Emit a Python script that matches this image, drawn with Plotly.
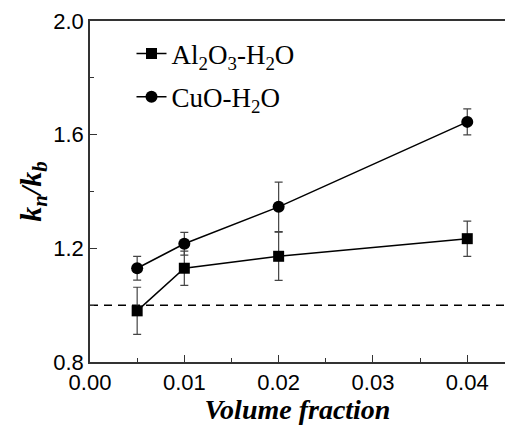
import plotly.graph_objects as go

volume_fraction = [0.005, 0.01, 0.02, 0.04]
al2o3_ratio = [0.98, 1.13, 1.172, 1.234]
al2o3_err = [0.083, 0.06, 0.085, 0.062]
cuo_ratio = [1.13, 1.216, 1.346, 1.645]
cuo_err = [0.042, 0.04, 0.087, 0.046]
ref_x = [0.0, 0.044]
ref_y = [1.0, 1.0]
x_ticks = [0.0, 0.01, 0.02, 0.03, 0.04]
x_tick_labels = ["0.00", "0.01", "0.02", "0.03", "0.04"]
y_ticks = [0.8, 1.2, 1.6, 2.0]
y_tick_labels = ["0.8", "1.2", "1.6", "2.0"]

fig = go.Figure()
fig.add_trace(go.Scatter(
    x=ref_x, y=ref_y, mode="lines", showlegend=False,
    line=dict(color="black", width=1.5, dash="8px,6px"), hoverinfo="skip"))
fig.add_trace(go.Scatter(
    x=volume_fraction, y=al2o3_ratio, mode="lines+markers",
    name="Al<sub>2</sub>O<sub>3</sub>-H<sub>2</sub>O", legendgroup="a",
    line=dict(color="black", width=1.5),
    marker=dict(symbol="square", size=11, color="black"),
    error_y=dict(type="data", array=al2o3_err, color="#444", thickness=1.2, width=4)))
fig.add_trace(go.Scatter(
    x=volume_fraction, y=cuo_ratio, mode="lines+markers",
    name="CuO-H<sub>2</sub>O", legendgroup="b",
    line=dict(color="black", width=1.5),
    marker=dict(symbol="circle", size=12, color="black"),
    error_y=dict(type="data", array=cuo_err, color="#444", thickness=1.2, width=4)))

fig.update_layout(
    width=506, height=425,
    margin=dict(l=90, r=1, t=21, b=63),
    paper_bgcolor="white", plot_bgcolor="white",
    font=dict(family="Liberation Sans, Arial", size=22, color="black"),
    legend=dict(x=0.1, y=0.975, xanchor="left", yanchor="top",
                font=dict(family="Liberation Serif, Times New Roman", size=27),
                bgcolor="rgba(0,0,0,0)", traceorder="grouped", tracegroupgap=5),
    xaxis=dict(range=[0, 0.044], tickvals=x_ticks, ticktext=x_tick_labels,
               ticks="inside", ticklen=7, tickwidth=1.2, tickcolor="#333",
               minor=dict(ticks="inside", ticklen=4, dtick=0.005, tick0=0, tickcolor="#333"),
               showline=True, linecolor="#333", linewidth=1.5, mirror=True,
               showgrid=False, zeroline=False,
               title=dict(text="<b><i>Volume fraction</i></b>", standoff=7,
                          font=dict(family="Liberation Serif, Times New Roman", size=28))),
    yaxis=dict(range=[0.8, 2.0], tickvals=y_ticks, ticktext=y_tick_labels,
               ticks="inside", ticklen=7, tickwidth=1.2, tickcolor="#333",
               minor=dict(ticks="inside", ticklen=4, dtick=0.2, tick0=0.8, tickcolor="#333"),
               showline=True, linecolor="#333", linewidth=1.5,
               showgrid=False, zeroline=False,
               title=dict(text="<b><i>k<sub>n</sub>/k<sub>b</sub></i></b>", standoff=3,
                          font=dict(family="Liberation Serif, Times New Roman", size=30))),
)

fig.write_html("out.html")
